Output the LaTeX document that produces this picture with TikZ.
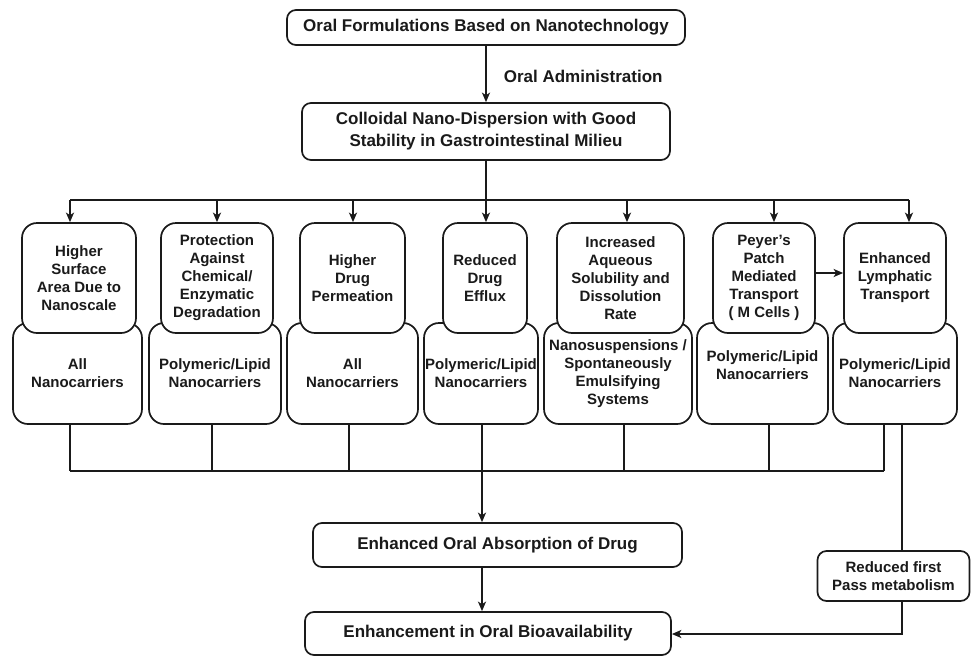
\documentclass[tikz,border=0pt]{standalone}
\usepackage{fontspec}
\setmainfont{Liberation Sans}
\usetikzlibrary{arrows.meta}
\definecolor{ink}{HTML}{1A1A1A}
\begin{document}
\begin{tikzpicture}[x=1pt,y=-1pt,
  every node/.style={text=ink},
  bigbox/.style={draw=ink, line width=1.7pt, fill=white, rounded corners=9pt, inner sep=0pt, align=center, font=\bfseries\fontsize{17}{22}\selectfont},
  smallbox/.style={draw=ink, line width=1.7pt, fill=white, rounded corners=9pt, inner sep=0pt, align=center, font=\bfseries\fontsize{15}{18}\selectfont},
  colbox/.style={draw=ink, line width=1.7pt, fill=white, rounded corners=15pt, inner sep=0pt, align=center, font=\bfseries\fontsize{15}{18}\selectfont},
  conn/.style={draw=ink, line width=1.7pt},
  arr/.style={conn, -{Stealth[length=9.5pt,width=8pt,inset=2.5pt]}},
  lbl/.style={font=\bfseries\fontsize{17}{20}\selectfont, inner sep=0pt},
]
\useasboundingbox (0,0) rectangle (971,656);
\fill[white] (0,0) rectangle (971,656);

% main boxes
\node[bigbox, minimum width=398pt, minimum height=35pt] (top) at (486,27.5) {Oral Formulations Based on Nanotechnology};
\node[bigbox, minimum width=368pt, minimum height=57pt] (col) at (486,131.5) {Colloidal Nano-Dispersion with Good\\Stability in Gastrointestinal Milieu};
\node[bigbox, minimum width=369pt, minimum height=44pt] (abs) at (497.5,545) {Enhanced Oral Absorption of Drug};
\node[bigbox, minimum width=366pt, minimum height=43pt] (enh) at (488,633.5) {Enhancement in Oral Bioavailability};
\node[smallbox, minimum width=152pt, minimum height=50pt] (red) at (893.5,576) {Reduced first\\Pass metabolism};

\draw[arr] (top.south) -- (col.north) node[lbl, anchor=west, pos=0.55, xshift=17pt] (oa) {Oral Administration};

% bottom (carrier) boxes
\node[colbox, minimum width=129pt, minimum height=101pt] (s1) at (77.5,373.5) {All\\Nanocarriers};
\node[colbox, minimum width=132pt, minimum height=101pt] (s2) at (215,373.5) {Polymeric/Lipid\\Nanocarriers};
\node[colbox, minimum width=131pt, minimum height=101pt] (s3) at (352.5,373.5) {All\\Nanocarriers};
\node[colbox, minimum width=114pt, minimum height=101pt] (s4) at (481,373.5) {Polymeric/Lipid\\Nanocarriers};
\node[colbox, minimum width=148pt, minimum height=101pt] (s5) at (618,373.5) {Nanosuspensions /\\Spontaneously\\Emulsifying\\Systems};
\node[colbox, minimum width=131pt, minimum height=101pt] (s6) at (762.5,373.5) {Polymeric/Lipid\\Nanocarriers\\[-2pt]\mbox{}};
\node[colbox, minimum width=124pt, minimum height=101pt] (s7) at (895,373.5) {Polymeric/Lipid\\Nanocarriers};

% top (mechanism) boxes
\node[colbox, minimum width=114pt, minimum height=110pt] (t1) at (79,278) {Higher\\Surface\\Area Due to\\Nanoscale};
\node[colbox, minimum width=112pt, minimum height=110pt] (t2) at (217,278) {Protection\\Against\\Chemical/\\Enzymatic\\Degradation};
\node[colbox, minimum width=105pt, minimum height=110pt] (t3) at (352.5,278) {Higher\\Drug\\Permeation};
\node[colbox, minimum width=84pt, minimum height=110pt] (t4) at (485,278) {Reduced\\Drug\\Efflux};
\node[colbox, minimum width=127pt, minimum height=110pt] (t5) at (620.5,278) {Increased\\Aqueous\\Solubility and\\Dissolution\\Rate};
\node[colbox, minimum width=102pt, minimum height=110pt] (t6) at (764,278) {Peyer’s\\Patch\\Mediated\\Transport\\( M Cells )};
\node[colbox, minimum width=102pt, minimum height=110pt] (t7) at (895,278) {Enhanced\\Lymphatic\\Transport};

% distribution bus
\coordinate (a1) at (70,200);
\coordinate (a2) at (217,200);
\coordinate (a3) at (353,200);
\coordinate (a4) at (486,200);
\coordinate (a5) at (627,200);
\coordinate (a6) at (774,200);
\coordinate (a7) at (909,200);
\draw[conn] (col.south) -- (a4);
\draw[conn] (a1) -- (a7);
\foreach \i in {1,...,7} { \draw[arr] (a\i) -- (a\i |- t\i.north); }

\coordinate (py) at (0,273);
\draw[arr] (t6.east |- py) -- (t7.west |- py);

% collecting bus
\coordinate (b1) at (70,471);
\coordinate (b2) at (212,471);
\coordinate (b3) at (349,471);
\coordinate (b4) at (482,471);
\coordinate (b5) at (624,471);
\coordinate (b6) at (769,471);
\coordinate (b7) at (884,471);
\foreach \i in {1,...,7} { \draw[conn] (b\i |- s\i.south) -- (b\i); }
\draw[conn] (b1) -- (b7);
\draw[arr] (b4) -- (b4 |- abs.north);
\draw[arr] (b4 |- abs.south) -- (b4 |- enh.north);

% right branch
\coordinate (rc) at (902,634);
\draw[conn] (rc |- s7.south) -- (rc |- red.north);
\draw[arr] (rc |- red.south) -- (rc) -- (rc -| enh.east);
\end{tikzpicture}
\end{document}
